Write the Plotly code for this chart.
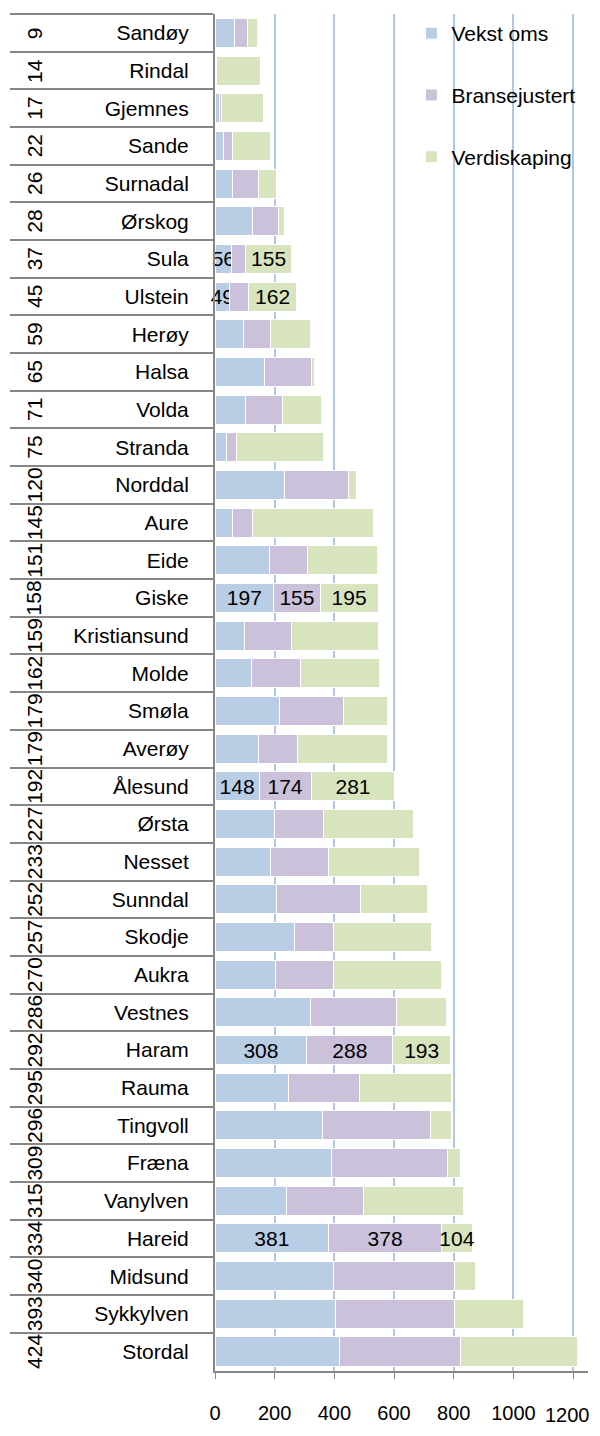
import plotly.graph_objects as go

municipalities = [
    "Sandøy", "Rindal", "Gjemnes", "Sande", "Surnadal", "Ørskog", "Sula", "Ulstein",
    "Herøy", "Halsa", "Volda", "Stranda", "Norddal", "Aure", "Eide", "Giske",
    "Kristiansund", "Molde", "Smøla", "Averøy", "Ålesund", "Ørsta", "Nesset", "Sunndal",
    "Skodje", "Aukra", "Vestnes", "Haram", "Rauma", "Tingvoll", "Fræna", "Vanylven",
    "Hareid", "Midsund", "Sykkylven", "Stordal",
]
ranks = [9, 14, 17, 22, 26, 28, 37, 45, 59, 65, 71, 75, 120, 145, 151, 158, 159, 162,
         179, 179, 192, 227, 233, 252, 257, 270, 286, 292, 295, 296, 309, 315, 334, 340,
         393, 424]
vekst_oms = [66, 2, 14, 30, 60, 126, 56, 49, 94, 166, 103, 37, 233, 59, 183, 197, 98, 121,
             217, 147, 148, 200, 186, 206, 266, 203, 320, 308, 245, 360, 392, 240, 381, 397,
             404, 416]
bransejustert = [44, 2, 9, 29, 85, 86, 46, 63, 91, 156, 122, 35, 216, 66, 128, 155, 158, 167,
                 214, 131, 174, 164, 194, 283, 132, 193, 287, 288, 239, 361, 388, 258, 378, 404,
                 399, 407]
verdiskaping = [33, 147, 138, 127, 60, 20, 155, 162, 136, 12, 131, 293, 26, 405, 232, 195, 291, 264,
                148, 301, 281, 302, 304, 222, 329, 364, 170, 193, 309, 72, 42, 334, 104, 71,
                231, 393]
x_ticks = [0, 200, 400, 600, 800, 1000, 1200]

# which bars carry a value label
labels_vekst = ["Sula", "Ulstein", "Giske", "Ålesund", "Haram", "Hareid"]
labels_bransje = ["Giske", "Ålesund", "Haram", "Hareid"]
labels_verdi = ["Sula", "Ulstein", "Giske", "Ålesund", "Haram", "Hareid"]

FONT = "Liberation Sans, Arial, sans-serif"
X_MAX = 1250
# the page body keeps its 8px margin: the figure sits at (8, 8) in the 600x1436 window
BODY = 8
FIG_W, FIG_H = 584, 1420
PLOT_LEFT, PLOT_W = 204, 376
PLOT_TOP, PLOT_H = 6, 1377
GRAY = "#868686"


def px(x_page):
    return (x_page - BODY - PLOT_LEFT) / PLOT_W


series = [
    ("Vekst oms", vekst_oms, labels_vekst, "#B9CDE5"),
    ("Bransejustert", bransejustert, labels_bransje, "#CCC1DA"),
    ("Verdiskaping", verdiskaping, labels_verdi, "#D7E4BD"),
]

fig = go.Figure()
for name, values, labelled, color in series:
    fig.add_trace(
        go.Bar(
            y=municipalities,
            x=values,
            name=name,
            orientation="h",
            legendgroup=name,
            marker=dict(color=color, line=dict(color="white", width=1)),
            text=[str(v) if m in labelled else "" for m, v in zip(municipalities, values)],
            textposition="inside",
            insidetextanchor="middle",
            constraintext="none",
            textangle=0,
            cliponaxis=False,
            textfont=dict(family=FONT, size=21, color="black"),
        )
    )

# outer label level: rotated rank numbers
for name, rank in zip(municipalities, ranks):
    fig.add_annotation(
        x=px(30), xref="paper", xanchor="center", y=name, yref="y", yanchor="middle",
        text=str(rank), textangle=-90, showarrow=False,
        font=dict(family=FONT, size=21, color="black"),
    )

# the last x tick label would overflow the figure edge and get dropped by plotly,
# so it is written as an annotation pulled just inside the edge
fig.add_annotation(
    x=x_ticks[-1], xref="x", xanchor="right", xshift=19,
    y=-44.5 / PLOT_H, yref="paper", yanchor="middle",
    text=str(x_ticks[-1]), showarrow=False,
    font=dict(family=FONT, size=20, color="black"),
)

fig.update_layout(
    width=FIG_W,
    height=FIG_H,
    margin=dict(l=PLOT_LEFT, r=FIG_W - PLOT_LEFT - PLOT_W, t=PLOT_TOP,
                b=FIG_H - PLOT_TOP - PLOT_H, pad=0),
    barmode="stack",
    bargap=0.23,
    plot_bgcolor="white",
    paper_bgcolor="white",
    font=dict(family=FONT, size=21, color="black"),
    showlegend=True,
    legend=dict(
        x=px(410), xanchor="left", y=1 + 1 / PLOT_H, yanchor="top",
        traceorder="grouped", tracegroupgap=31.5,
        bgcolor="rgba(0,0,0,0)", font=dict(family=FONT, size=21, color="black"),
    ),
)
fig.update_xaxes(
    range=[0, X_MAX], tickvals=x_ticks,
    showgrid=True, gridcolor="#B3C7E2", gridwidth=1.5, zeroline=False,
    showline=True, linecolor=GRAY, linewidth=2,
    ticks="outside", ticklen=6, tickcolor=GRAY, ticklabelstandoff=17,
    tickfont=dict(family=FONT, size=20, color="black"),
)
# long category ticks on the boundaries form the rules of the label table
fig.update_yaxes(
    autorange="reversed", showgrid=False, zeroline=False,
    showline=True, linecolor=GRAY, linewidth=2,
    ticks="outside", tickson="boundaries", ticklen=203, tickwidth=1.5, tickcolor=GRAY,
    ticklabelstandoff=20,
    tickfont=dict(family=FONT, size=21, color="black"),
)

fig.write_html("out.html", config={"displayModeBar": False})
